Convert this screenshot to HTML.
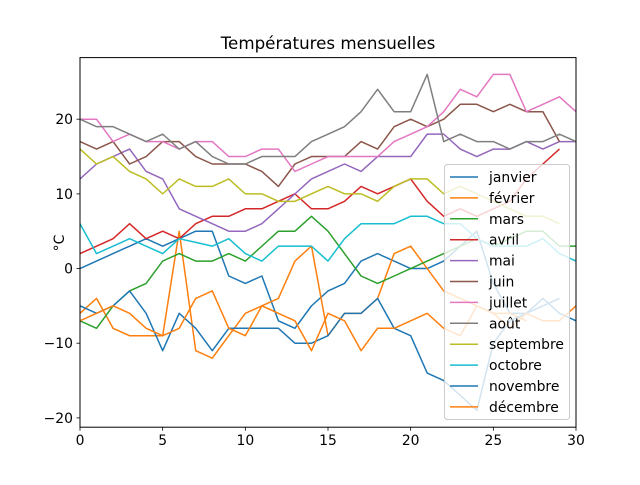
<!DOCTYPE html>
<html><head><meta charset="utf-8"><style>
body{margin:0;background:#fff;}
svg text{font-family:"DejaVu Sans","Liberation Sans",sans-serif;}
</style></head><body>
<svg id="chart" width="640" height="480" viewBox="0 0 640 480">
<rect width="640" height="480" fill="#fff"/>
<text x="328" y="49" font-size="16.7" text-anchor="middle">Températures mensuelles</text>
<text transform="translate(64,243) rotate(-90)" font-size="13.9" text-anchor="middle">°C</text>
<g id="series"></g>
<rect x="80" y="57.6" width="496" height="369.6" fill="none" stroke="#000" stroke-width="1"/>
<g id="axes"></g>
<g id="legend"></g>
</svg>
<script>
const months = ["janvier","février","mars","avril","mai","juin","juillet","août","septembre","octobre","novembre","décembre"];
const colors = ["#1f77b4","#ff7f0e","#2ca02c","#d62728","#9467bd","#8c564b","#e377c2","#7f7f7f","#bcbd22","#17becf","#1f77b4","#ff7f0e"];
const janvier = [0,1,2,3,4,3,4,5,5,-1,-2,-1,-7,-8,-5,-3,-2,1,2,1,0,0,1,3,5,-2,-6,-6,-4,-6,-7];
const fevrier = [-6,-4,-8,-9,-9,-9,5,-11,-12,-9,-6,-5,-4,1,3,-9,-6,-6,-4,2,3,0,-3,-4,-5,-6,-6,-7];
const mars = [-7,-8,-5,-3,-2,1,2,1,1,2,1,3,5,5,7,5,2,-1,-2,-1,0,1,2,3,4,3,4,5,5,3,3];
const avril = [2,3,4,6,4,5,4,6,7,7,8,8,9,10,8,8,9,11,10,11,12,9,7,8,7,8,9,12,14,16];
const mai = [12,14,15,16,13,12,8,7,6,5,5,6,8,10,12,13,14,13,15,15,15,18,18,16,15,16,16,17,16,17,17];
const juin = [17,16,17,14,15,17,17,15,14,14,14,13,11,14,15,15,15,17,16,19,20,19,20,22,22,21,22,21,21,17];
const juillet = [20,20,17,18,17,17,16,17,17,15,15,16,16,13,14,15,15,15,15,17,18,19,21,24,23,26,26,21,22,23,21];
const aout = [20,19,19,18,17,18,16,17,15,14,14,15,15,15,17,18,19,21,24,21,21,26,17,18,17,17,16,17,17,18,17];
const septembre = [16,14,15,13,12,10,12,11,11,12,10,10,9,9,10,11,10,10,9,11,12,12,10,11,10,9,8,7,7,6];
const octobre = [6,2,3,4,3,2,4,3.5,3,4,2,1,3,3,3,1,4,6,6,6,7,7,6,6,4,3,3,3,4,2,1];
const novembre = [-5,-6,-5,-3,-6,-11,-6,-8,-11,-8,-8,-8,-8,-10,-10,-9,-6,-6,-4,-8,-9,-14,-15,-17,-19,-10,-7,-6,-5,-4];
const decembre = [-7,-6,-5,-6,-8,-9,-8,-4,-3,-8,-9,-5,-6,-7,-11,-6,-7,-11,-8,-8,-7,-6,-8,-9,-5,-6,-8,-6,-7,-7,-5];
const seriesData = [janvier,fevrier,mars,avril,mai,juin,juillet,aout,septembre,octobre,novembre,decembre];
const xTicks = [0,5,10,15,20,25,30];
const yTicks = [-20,-10,0,10,20];

const NS = "http://www.w3.org/2000/svg";
const L=80,R=576,T=57.6,B=427.2, XMIN=0,XMAX=30,YMIN=-21.25,YMAX=28.25;
function xs(v){return L+(v-XMIN)/(XMAX-XMIN)*(R-L);}
function ys(v){return B-(v-YMIN)/(YMAX-YMIN)*(B-T);}
function mk(tag,attrs){const e=document.createElementNS(NS,tag);for(const k in attrs)e.setAttribute(k,attrs[k]);return e;}

const sg=document.getElementById('series');
seriesData.forEach((d,i)=>{
  const pts=d.map((v,j)=>xs(j).toFixed(2)+","+ys(v).toFixed(2)).join(" ");
  const p=mk('polyline',{points:pts,fill:"none",stroke:colors[i],"stroke-width":1.5,"stroke-linejoin":"round"});
  
  
  sg.appendChild(p);
});

const ax=document.getElementById('axes');
xTicks.forEach(t=>{
  const l=mk('line',{x1:xs(t),x2:xs(t),y1:B,y2:B+3.5,stroke:"#000","stroke-width":0.8});
  
  
  ax.appendChild(l);
  const tx=mk('text',{x:xs(t),y:B+18,"font-size":13.9,"text-anchor":"middle"});
  
  
  tx.textContent=t;ax.appendChild(tx);
});
yTicks.forEach(t=>{
  const l=mk('line',{x1:L-3.5,x2:L,y1:ys(t),y2:ys(t),stroke:"#000","stroke-width":0.8});
  
  
  ax.appendChild(l);
  const tx=mk('text',{x:L-7,y:ys(t)+5,"font-size":13.9,"text-anchor":"end"});
  
  
  tx.textContent=(t<0?"\u2212"+(-t):t);ax.appendChild(tx);
});

const lg=document.getElementById('legend');
const box=mk('rect',{x:444.5,y:164.5,width:125,height:255,rx:3,fill:"#fff","fill-opacity":0.8,stroke:"#ccc","stroke-width":1});


lg.appendChild(box);
months.forEach((m,i)=>{
  const y=177+i*20.9;
  const l=mk('line',{x1:450,x2:478,y1:y,y2:y,stroke:colors[i],"stroke-width":1.5});
  
  
  lg.appendChild(l);
  const tx=mk('text',{x:489,y:y+5,"font-size":13.9});
  
  
  tx.textContent=m;lg.appendChild(tx);
});
</script>
</body></html>
